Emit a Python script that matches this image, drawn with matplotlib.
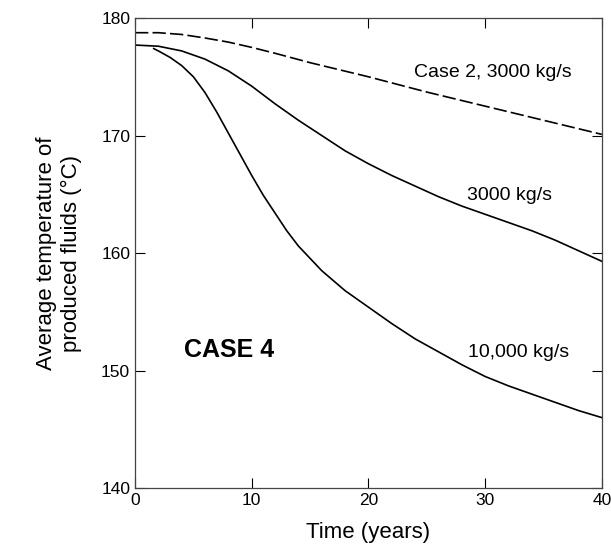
import matplotlib

matplotlib.use("Agg")
import matplotlib.pyplot as plt

plt.rcParams["font.family"] = ["Liberation Sans", "DejaVu Sans"]

# Case 2, 3000 kg/s (dashed)
t_case2 = [0, 2, 4, 6, 8, 10, 12, 15, 20, 25, 30, 35, 40]
T_case2 = [178.75, 178.75, 178.6, 178.3, 177.95, 177.5, 177.0, 176.2, 175.0, 173.7, 172.5, 171.3, 170.1]

# Case 4, 3000 kg/s
t_3000 = [0, 2, 4, 6, 8, 10, 12, 14, 16, 18, 20, 22, 24, 26, 28, 30, 32, 34, 36, 38, 40]
T_3000 = [177.7, 177.6, 177.2, 176.5, 175.5, 174.2, 172.7, 171.3, 170.0, 168.7, 167.6,
          166.6, 165.7, 164.8, 164.0, 163.3, 162.6, 161.9, 161.1, 160.2, 159.3]

# Case 4, 10,000 kg/s
t_10000 = [1.6, 2, 3, 4, 5, 6, 7, 8, 9, 10, 11, 12, 13, 14, 16, 18, 20, 22, 24, 26, 28,
           30, 32, 34, 36, 38, 40]
T_10000 = [177.4, 177.2, 176.65, 175.95, 175.0, 173.65, 172.0, 170.2, 168.4, 166.6, 164.9,
           163.4, 161.9, 160.6, 158.5, 156.8, 155.4, 154.0, 152.7, 151.6, 150.5,
           149.5, 148.7, 148.0, 147.3, 146.6, 146.0]

fig = plt.figure(figsize=(6.11, 5.46), dpi=100)
ax = fig.add_axes([0.221, 0.106, 0.764, 0.861])

ax.plot(t_case2, T_case2, color="black", lw=1.2, ls=(0, (8, 2.5)))
ax.plot(t_3000, T_3000, color="black", lw=1.2)
ax.plot(t_10000, T_10000, color="black", lw=1.2)

ax.set_xlim(0, 40)
ax.set_ylim(140, 180)
ax.set_xticks([0, 10, 20, 30, 40])
ax.set_yticks([140, 150, 160, 170, 180])
ax.tick_params(direction="in", length=7, width=0.8, top=True, right=True,
               labelsize=12.5, colors="black")
for sp in ax.spines.values():
    sp.set_linewidth(0.9)
    sp.set_color("#444444")

ax.text(30.7, 175.4, "Case 2, 3000 kg/s", ha="center", va="center", fontsize=14)
ax.text(32.1, 164.9, "3000 kg/s", ha="center", va="center", fontsize=14)
ax.text(32.9, 151.5, "10,000 kg/s", ha="center", va="center", fontsize=14)
ax.text(8.1, 151.75, "CASE 4", ha="center", va="center", fontsize=18, fontweight="bold")

ax.set_xlabel("Time (years)", fontsize=16, labelpad=10)
ax.set_ylabel("Average temperature of\nproduced fluids (°C)", fontsize=16, labelpad=14)

fig.savefig("out.png", dpi=100)
plt.close(fig)
